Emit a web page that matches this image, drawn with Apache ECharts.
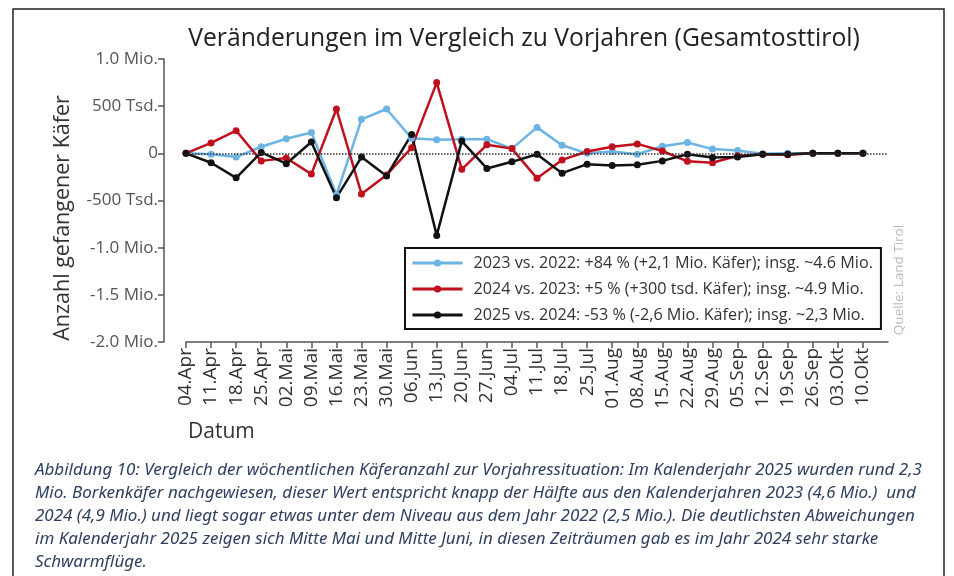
<!DOCTYPE html>
<html>
<head>
    <meta charset="utf-8">
    <title>Käfer Vergleich</title>
    <script src="https://cdn.jsdelivr.net/npm/echarts@6/dist/echarts.min.js"></script>
    <style>
        body { margin: 0; background: #fff; }
    </style>
</head>
<body>
    <div id="main" style="width: 954px;height:576px;"></div>
    <script type="text/javascript">
        // Kalenderwochen (Freitag)
        var dates = ['04.Apr', '11.Apr', '18.Apr', '25.Apr', '02.Mai', '09.Mai', '16.Mai', '23.Mai', '30.Mai',
            '06.Jun', '13.Jun', '20.Jun', '27.Jun', '04.Jul', '11.Jul', '18.Jul', '25.Jul',
            '01.Aug', '08.Aug', '15.Aug', '22.Aug', '29.Aug', '05.Sep', '12.Sep', '19.Sep', '26.Sep', '03.Okt', '10.Okt'];

        // Differenz gefangener Käfer zur Vorjahreswoche
        var diff2023 = [0, -10000, -40000, 70000, 155000, 220000, -440000, 360000, 470000, 160000, 145000, 150000, 150000, 50000,
            275000, 85000, 0, 20000, -10000, 75000, 115000, 45000, 30000, -5000, 0, 0, 0, 0];
        var diff2024 = [0, 110000, 240000, -80000, -50000, -220000, 470000, -430000, -230000, 60000, 750000, -170000, 90000, 50000,
            -265000, -70000, 20000, 70000, 100000, 25000, -85000, -100000, -25000, -10000, -15000, 0, 0, 0];
        var diff2025 = [0, -100000, -260000, 10000, -110000, 120000, -470000, -40000, -240000, 200000, -870000, 130000, -160000, -90000,
            -10000, -210000, -115000, -130000, -120000, -80000, -10000, -45000, -40000, -10000, -10000, 0, 0, 0];

        var legendNames = [
            '2023 vs. 2022: +84 % (+2,1 Mio. Käfer); insg. ~4.6 Mio.',
            '2024 vs. 2023: +5 % (+300 tsd. Käfer); insg. ~4.9 Mio.',
            '2025 vs. 2024: -53 % (-2,6 Mio. Käfer); insg. ~2,3 Mio.'
        ];

        var caption = 'Abbildung 10: Vergleich der wöchentlichen Käferanzahl zur Vorjahressituation: Im Kalenderjahr 2025 wurden rund 2,3\n' +
            'Mio. Borkenkäfer nachgewiesen, dieser Wert entspricht knapp der Hälfte aus den Kalenderjahren 2023 (4,6 Mio.)  und\n' +
            '2024 (4,9 Mio.) und liegt sogar etwas unter dem Niveau aus dem Jahr 2022 (2,5 Mio.). Die deutlichsten Abweichungen\n' +
            'im Kalenderjahr 2025 zeigen sich Mitte Mai und Mitte Juni, in diesen Zeiträumen gab es im Jahr 2024 sehr starke\n' +
            'Schwarmflüge.';

        var colBlue = '#6cb4e4';
        var colRed = '#c0101e';
        var colBlack = '#111111';

        var myChart = echarts.init(document.getElementById('main'));

        function yLabel(v) {
            if (v === 0) return '0';
            if (Math.abs(v) >= 1000000) return (v / 1000000).toFixed(1) + ' Mio.';
            return (v / 1000) + ' Tsd.';
        }

        function mkSeries(name, data, color) {
            return {
                name: name,
                type: 'line',
                data: data,
                z: 3,
                symbol: 'circle',
                symbolSize: 7,
                showAllSymbol: true,
                itemStyle: { color: color },
                lineStyle: { color: color, width: 2.5 },
                emphasis: { disabled: true }
            };
        }

        var option = {
            animation: false,
            title: {
                text: 'Veränderungen im Vergleich zu Vorjahren (Gesamtosttirol)',
                left: 519,
                textAlign: 'center',
                top: 21,
                textStyle: { fontFamily: 'Open Sans', fontSize: 24.7, fontWeight: 'normal', color: '#222' }
            },
            grid: { left: 186, right: 66, top: 59, bottom: 234 },
            legend: {
                orient: 'vertical',
                left: 405,
                top: 248,
                width: 475,
                itemWidth: 50,
                itemHeight: 9,
                itemGap: 10,
                padding: [7, 8, 6, 6],
                borderColor: '#111',
                borderWidth: 2,
                data: legendNames,
                lineStyle: { width: 3 },
                textStyle: { fontFamily: 'Open Sans', fontSize: 16.2, color: '#333', padding: [0, 0, 0, 6] }
            },
            xAxis: {
                type: 'category',
                boundaryGap: false,
                data: dates.concat(['']),
                axisLine: { onZero: false, lineStyle: { color: '#555', width: 1.5 } },
                axisTick: {
                    length: 6,
                    lineStyle: { color: '#555', width: 1.5 },
                    interval: function (i) { return i < dates.length; }
                },
                axisLabel: {
                    rotate: 90,
                    interval: 0,
                    margin: 6,
                    fontFamily: 'Open Sans',
                    fontSize: 19,
                    color: '#333'
                },
                splitLine: { show: false }
            },
            yAxis: {
                type: 'value',
                min: -2000000,
                max: 1000000,
                interval: 500000,
                offset: 22,
                axisLine: { show: true, lineStyle: { color: '#555', width: 1.5 } },
                axisTick: { show: true, length: 6, lineStyle: { color: '#555', width: 1.5 } },
                axisLabel: {
                    formatter: yLabel,
                    margin: 6,
                    fontFamily: 'Open Sans',
                    fontSize: 17,
                    color: '#555'
                },
                splitLine: { show: false }
            },
            series: [
                {
                    type: 'line',
                    data: [],
                    z: 1,
                    silent: true,
                    markLine: {
                        silent: true,
                        symbol: 'none',
                        label: { show: false },
                        lineStyle: { color: '#333', type: 'dotted', width: 1.5 },
                        data: [{ yAxis: 0 }]
                    }
                },
                mkSeries(legendNames[0], diff2023, colBlue),
                mkSeries(legendNames[1], diff2024, colRed),
                mkSeries(legendNames[2], diff2025, colBlack)
            ],
            graphic: [
                {
                    type: 'rect',
                    shape: { x: 13, y: 9, width: 931, height: 600 },
                    style: { fill: 'none', stroke: '#222', lineWidth: 1.5 },
                    silent: true
                },
                {
                    type: 'text',
                    x: 63,
                    y: 218,
                    rotation: Math.PI / 2,
                    style: {
                        text: 'Anzahl gefangener Käfer',
                        fontFamily: 'Open Sans',
                        fontSize: 21.5,
                        fill: '#333',
                        align: 'center',
                        verticalAlign: 'middle'
                    }
                },
                {
                    type: 'text',
                    x: 188,
                    y: 432,
                    style: {
                        text: 'Datum',
                        fontFamily: 'Open Sans',
                        fontSize: 21,
                        fill: '#333',
                        align: 'left',
                        verticalAlign: 'middle'
                    }
                },
                {
                    type: 'text',
                    x: 899,
                    y: 280,
                    rotation: Math.PI / 2,
                    style: {
                        text: 'Quelle: Land Tirol',
                        fontFamily: 'Open Sans',
                        fontSize: 13.5,
                        fill: '#bbb',
                        align: 'center',
                        verticalAlign: 'middle'
                    }
                },
                {
                    type: 'text',
                    x: 35,
                    y: 459,
                    scaleX: 1.095,
                    style: {
                        text: caption,
                        fontFamily: 'Noto Sans',
                        fontStyle: 'italic',
                        fontSize: 15.5,
                        lineHeight: 23,
                        fill: '#2f4060'
                    }
                }
            ]
        };

        myChart.setOption(option);
    </script>
</body>
</html>
